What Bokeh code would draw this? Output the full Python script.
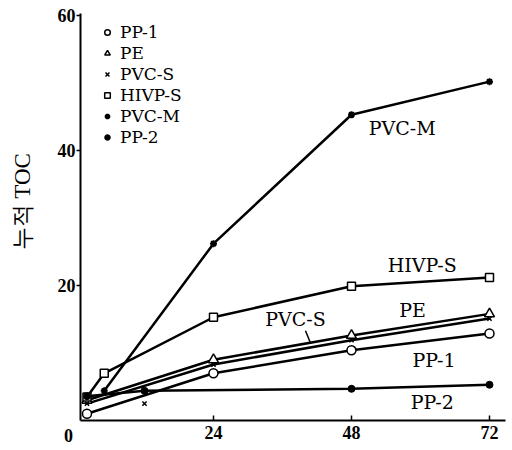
import math
from bokeh.plotting import figure
from bokeh.models import Range1d, FixedTicker, Legend, LegendItem, LinearAxis
from bokeh.core.properties import value
from bokeh.embed import file_html
from bokeh.resources import INLINE

# ---- data ----
pp1_x = [2, 24, 48, 72]
pp1_y = [1.0, 7.0, 10.4, 12.9]

pe_x = [2, 24, 48, 72]
pe_y = [3.0, 9.0, 12.6, 15.8]

pvcs_x = [2, 24, 48, 72]
pvcs_y = [2.5, 8.3, 11.9, 15.1]
pvcs_out_x = [12]
pvcs_out_y = [2.5]

hivps_x = [2, 5, 24, 48, 72]
hivps_y = [3.5, 7.0, 15.3, 19.9, 21.2]

pvcm_x = [5, 24, 48, 72]
pvcm_y = [4.4, 26.2, 45.3, 50.2]

pp2_x = [2, 12, 48, 72]
pp2_y = [3.6, 4.4, 4.7, 5.3]

x_ticks = [24, 48, 72]
y_ticks = [20, 40, 60]

SERIF = "Liberation Serif"
LSERIF = "DejaVu Serif"

X0, X1 = 0.87, 74.8   # axis extents (hours)
Y0, Y1 = 0.0, 60.3    # axis extents (TOC)

p = figure(width=512, height=450, output_backend="svg", toolbar_location=None,
           x_range=Range1d(-13.04, 76.0), y_range=Range1d(-4.44, 62.22),
           x_axis_location=None, y_axis_location=None,
           min_border_left=0, min_border_right=0, min_border_top=0,
           min_border_bottom=0)
p.outline_line_color = None
p.grid.visible = False
p.background_fill_color = "white"

xa = LinearAxis(fixed_location=0, bounds=(X0, X1), ticker=FixedTicker(ticks=x_ticks))
ya = LinearAxis(fixed_location=X0, bounds=(Y0, Y1), ticker=FixedTicker(ticks=y_ticks))
p.add_layout(xa, "below")
p.add_layout(ya, "left")

for ax in (xa, ya):
    ax.axis_line_color = "black"
    ax.axis_line_width = 2
    ax.major_tick_line_color = "black"
    ax.major_tick_line_width = 1.5
    ax.minor_tick_line_color = None
    ax.major_label_text_font = SERIF
    ax.major_label_text_font_style = "bold"
    ax.major_label_text_font_size = "18px"
    ax.major_label_text_color = "black"

xa.major_tick_in = 5
xa.major_tick_out = 0
xa.major_label_standoff = 5
ya.major_tick_in = 0
ya.major_tick_out = 4
ya.major_label_standoff = 1

# y-axis title (rotated), placed beside the axis
p.text([-9.2], [32.4], text=["누적 TOC"], angle=math.pi / 2,
       text_font=value(SERIF), text_font_size="23px", text_align="center",
       text_baseline="middle", text_color="black")

# shared origin label "0"
p.text([-1.2], [-2.2], text=["0"], text_font=value(SERIF), text_font_style="bold",
       text_font_size="18px", text_align="center", text_baseline="middle",
       text_color="black")

LW = 2.5
for xs, ys in ((pp1_x, pp1_y), (pe_x, pe_y), (pvcs_x, pvcs_y),
               (hivps_x, hivps_y), (pvcm_x, pvcm_y), (pp2_x, pp2_y)):
    p.line(xs, ys, line_color="black", line_width=LW)

# markers
r_pp1 = p.scatter(pp1_x, pp1_y, marker="circle", size=9, fill_color="white",
                  line_color="black", line_width=1.5)
r_pe = p.scatter(pe_x, pe_y, marker="triangle", size=10, fill_color="white",
                 line_color="black", line_width=1.5)
r_pvcs = p.scatter(pvcs_x, pvcs_y, marker="x", size=6, line_color="black",
                   line_width=1.5)
p.scatter(pvcs_out_x, pvcs_out_y, marker="x", size=6, line_color="black",
          line_width=1.5)
r_hivps = p.scatter(hivps_x, hivps_y, marker="square", size=8, fill_color="white",
                    line_color="black", line_width=1.5)
r_pvcm = p.scatter(pvcm_x, pvcm_y, marker="asterisk", size=7, line_color="black",
                   line_width=2)
r_pp2 = p.scatter(pp2_x, pp2_y, marker="circle", size=7, fill_color="black",
                  line_color="black", line_width=1)

# in-plot series labels
def lab(x, y, t):
    p.text([x], [y], text=[t], text_font=value(LSERIF), text_font_size="19px",
           text_align="left", text_baseline="middle", text_color="black")

lab(51.0, 43.4, "PVC-M")
lab(54.3, 23.0, "HIVP-S")
lab(56.3, 16.4, "PE")
lab(33.0, 15.1, "PVC-S")
lab(58.6, 8.9, "PP-1")
lab(58.3, 2.7, "PP-2")
p.segment([40.0], [13.3], [40.9], [11.4], line_color="black", line_width=1.5)

legend = Legend(items=[
    LegendItem(label="PP-1", renderers=[r_pp1]),
    LegendItem(label="PE", renderers=[r_pe]),
    LegendItem(label="PVC-S", renderers=[r_pvcs]),
    LegendItem(label="HIVP-S", renderers=[r_hivps]),
    LegendItem(label="PVC-M", renderers=[r_pvcm]),
    LegendItem(label="PP-2", renderers=[r_pp2]),
], location=(100, 303))
legend.border_line_color = None
legend.background_fill_alpha = 0
legend.padding = 0
legend.margin = 0
legend.spacing = 1
legend.glyph_width = 14
legend.glyph_height = 20
legend.label_height = 20
legend.label_standoff = 6
legend.label_text_font = LSERIF
legend.label_text_font_size = "17px"
legend.label_text_color = "black"
p.add_layout(legend)

open("out.html", "w").write(file_html(p, INLINE))
